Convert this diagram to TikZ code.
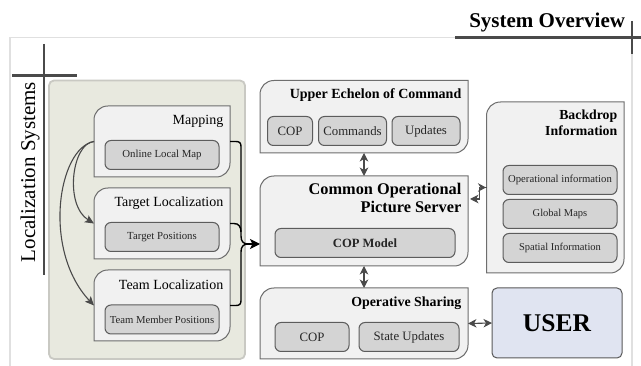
\documentclass[tikz,border=0pt]{standalone}
\usepackage{fontspec}
\setmainfont{Liberation Serif}
\usetikzlibrary{arrows.meta,calc}
\definecolor{panelgreen}{HTML}{E8E9DF}
\definecolor{panelline}{HTML}{C9C9C3}
\definecolor{boxfill}{HTML}{F1F1F1}
\definecolor{boxline}{HTML}{6E6E6E}
\definecolor{innerfill}{HTML}{D4D4D4}
\definecolor{innerline}{HTML}{5C5C5C}
\definecolor{darkbar}{HTML}{4A4A4A}
\definecolor{userfill}{HTML}{E0E4F1}
\tikzset{
  tabshape/.style={fill=boxfill,draw=boxline,line width=1pt},
  anchorbox/.style={inner sep=0pt,outer sep=0pt},
  innerbox/.style={fill=innerfill,draw=innerline,line width=1pt,rounded corners=6pt,inner sep=0pt,text=black!85},
  titletext/.style={anchor=east,align=right,inner sep=0pt},
  bar/.style={draw=darkbar,line width=2.2pt},
  curvearrow/.style={draw=darkbar,line width=1.1pt,-{Stealth[length=9pt,width=8pt,inset=2pt]}},
  mergeline/.style={draw=black,line width=1.4pt},
  biarrow/.style={draw=darkbar,line width=1.1pt,{Stealth[length=8.5pt,width=8.5pt,inset=2.5pt]}-{Stealth[length=8.5pt,width=8.5pt,inset=2.5pt]}},
}
\newcommand{\tabbox}[5]{%
  \draw[tabshape] (#2,#5) -- (#2,{#3+14}) .. controls (#2,{#3+6}) and ({#2+6},#3) .. ({#2+14},#3)
    -- (#4,#3) -- (#4,{#5-14}) .. controls (#4,{#5-6}) and ({#4-6},#5) .. ({#4-14},#5) -- cycle;
  \node[anchorbox,minimum width={(#4-#2)*1pt},minimum height={(#5-#3)*1pt}] (#1) at ({(#2+#4)/2},{(#3+#5)/2}) {};
}
\begin{document}
\begin{tikzpicture}[x=1pt,y=-1pt]
\useasboundingbox (0,0) rectangle (641,366);
\fill[white] (0,0) rectangle (641,366);
% frame
\draw[draw=black!12,line width=1.8pt] (10,366) -- (10,37.5) -- (632,37.5) -- (632,366);
\draw[bar] (455,37.5) -- (641,37.5);
\draw[bar] (632,21) -- (632,54);
\draw[bar] (44,44) -- (44,275);
\draw[bar] (12,75.5) -- (77,75.5);
\node[anchorbox,font=\fontsize{21}{21}\selectfont] (syslabel) at (30,172) {\rotatebox{90}{Localization Systems}};
\node[anchorbox,anchor=east,font=\fontsize{21}{21}\bfseries\selectfont] (overview) at (625,22) {System Overview};
% green panel
\draw[fill=panelgreen,draw=panelline,line width=1.8pt,rounded corners=5pt] (49,80.5) rectangle (245,359);
% left boxes
\tabbox{mapping}{94}{106}{230}{177}
\tabbox{target}{94}{188}{230}{259}
\tabbox{team}{94}{270}{230}{341}
\node[titletext,font=\fontsize{14}{14}\selectfont] (maptitle) at (223.5,121) {Mapping};
\node[titletext,font=\fontsize{14}{14}\selectfont] (targettitle) at (223.5,203) {Target Localization};
\node[titletext,font=\fontsize{14}{14}\selectfont] (teamtitle) at (223.5,285) {Team Localization};
\node[innerbox,minimum width=114pt,minimum height=29pt,font=\fontsize{10.8}{10.8}\selectfont] (onlinemap) at (162,155) {\raisebox{-1pt}{Online Local Map}};
\node[innerbox,minimum width=114pt,minimum height=29pt,font=\fontsize{10.8}{10.8}\selectfont] (targetpos) at (162,237) {\raisebox{-1pt}{Target Positions}};
\node[innerbox,minimum width=114pt,minimum height=29pt,font=\fontsize{10.7}{10.7}\selectfont] (teampos) at (162,319.5) {\raisebox{-1pt}{Team Member Positions}};
% upper
\tabbox{upper}{260}{80.5}{468}{153}
\node[titletext,font=\fontsize{14}{14}\bfseries\selectfont] (uppertitle) at (461.5,95.5) {Upper Echelon of Command};
\node[innerbox,minimum width=45pt,minimum height=29pt,font=\fontsize{12.8}{12.8}\selectfont] (ucop) at (290,131) {COP};
\node[innerbox,minimum width=68pt,minimum height=29pt,font=\fontsize{12.8}{12.8}\selectfont] (ucommands) at (352.5,131) {Commands};
\node[innerbox,minimum width=68pt,minimum height=29pt,font=\fontsize{12.8}{12.8}\selectfont] (uupdates) at (426,131) {Updates};
% common
\tabbox{common}{260}{176}{468}{266}
\node[titletext,font=\fontsize{16.3}{18}\bfseries\selectfont] (commontitle) at (461.5,198) {Common Operational\\Picture Server};
\node[innerbox,minimum width=180pt,minimum height=29pt,font=\fontsize{12.6}{12.6}\bfseries\selectfont] (copmodel) at (365,243) {COP Model};
% operative
\tabbox{operative}{260}{288}{468}{359}
\node[titletext,font=\fontsize{13.9}{13.9}\bfseries\selectfont] (operativetitle) at (461.5,303) {Operative Sharing};
\node[innerbox,minimum width=74pt,minimum height=29pt,font=\fontsize{12.8}{12.8}\selectfont] (ocop) at (312,337) {COP};
\node[innerbox,minimum width=100pt,minimum height=29pt,font=\fontsize{12.8}{12.8}\selectfont] (ostate) at (409,337) {\raisebox{-1pt}{State Updates}};
% backdrop
\tabbox{backdrop}{486.5}{102}{624}{273}
\node[titletext,font=\fontsize{13.8}{15.5}\bfseries\selectfont] (backdroptitle) at (617.5,123) {Backdrop\\Information};
\node[innerbox,minimum width=114pt,minimum height=29pt,font=\fontsize{10.7}{10.7}\selectfont] (opinfo) at (560,180) {\raisebox{-1pt}{Operational information}};
\node[innerbox,minimum width=114pt,minimum height=29pt,font=\fontsize{10.5}{10.5}\selectfont] (globalmaps) at (560,214) {\raisebox{-1pt}{Global Maps}};
\node[innerbox,minimum width=114pt,minimum height=29pt,font=\fontsize{10.5}{10.5}\selectfont] (spatial) at (560,248) {\raisebox{-1pt}{Spatial Information}};
% user
\node[anchorbox,draw=black!65,fill=userfill,line width=1pt,rounded corners=5pt,minimum width=130pt,minimum height=70pt,font=\fontsize{25.5}{25.5}\bfseries\selectfont] (user) at (557,323) {USER};
% connectors
\coordinate (commonin) at ($(common.west)+(0,23)$);
\coordinate (commonright) at ($(common.east)+(2,-22)$);
\coordinate (elbow) at (479.5,199);
\coordinate (merge) at (248,244);
\draw[curvearrow] (mapping.west) .. controls (58,148) and (42,250) .. (team.west);
\draw[curvearrow] (mapping.west) .. controls (72,143) and (64,205) .. (target.west);
\draw[mergeline] (mapping.east) -- (236,141.5) .. controls (239.5,141.5) and (241,143) .. (241,146.5) -- (241,236) .. controls (241,241) and (243,244) .. (merge);
\draw[mergeline] (team.east) -- (236,305.5) .. controls (239.5,305.5) and (241,304) .. (241,300.5) -- (241,252) .. controls (241,247) and (243,244) .. (merge);
\draw[mergeline] (target.east) -- (234,223.5) .. controls (239,223.5) and (241,227) .. (241,232);
\draw[mergeline,-{Stealth[length=10pt,width=10pt,inset=2.5pt]}] (merge) -- (commonin);
\draw[biarrow] (upper.south) -- (common.north);
\draw[biarrow] (common.south) -- (operative.north);
\draw[biarrow] (operative.east) -- (user.west);
\draw[draw=darkbar,line width=1.1pt,{Stealth[length=8.5pt,width=8.5pt,inset=2.5pt]}-] (commonright) -- (elbow) -- (479.5,187.5);
\draw[draw=darkbar,line width=1.1pt,{Stealth[length=8pt,width=8.5pt,inset=2.5pt,reversed]}-] (478,187.5) -- (backdrop.west);
\end{tikzpicture}
\end{document}
